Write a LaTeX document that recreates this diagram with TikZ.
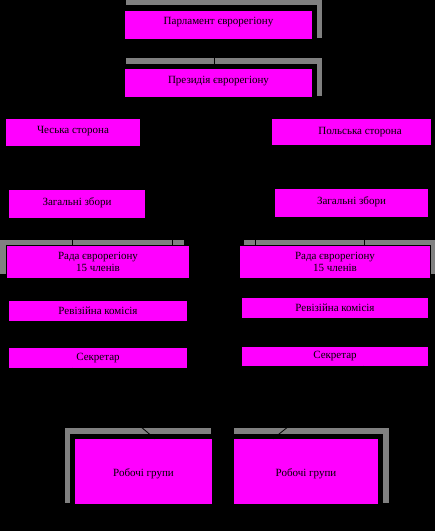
\documentclass[tikz,border=0pt]{standalone}
\usepackage{fontspec}
\setmainfont{Liberation Serif}
\definecolor{mag}{HTML}{FF00FF}
\definecolor{frame}{HTML}{808080}
\begin{document}
\begin{tikzpicture}[x=1pt,y=-1pt,
  box/.style={fill=mag,draw=none,inner sep=0pt,font=\fontsize{11}{12}\selectfont,text=black,align=center},
  shade/.style={fill=frame,draw=none},
  conn/.style={draw=black,line width=0.8pt}]
\fill[black] (0,0) rectangle (435,531);
\useasboundingbox (0,0) rectangle (435,531);
% grey frames
\fill[shade] (126,0) rectangle (322,5);
\fill[shade] (317,0) rectangle (322,38);
\fill[shade] (126,58) rectangle (322,64);
\fill[shade] (317,58) rectangle (322,96);
\fill[shade] (0,240) rectangle (184,245);
\fill[shade] (0,240) rectangle (6,274);
\fill[shade] (244,240) rectangle (435,245);
\fill[shade] (431,240) rectangle (435,274);
\fill[shade] (65,428) rectangle (211,434);
\fill[shade] (65,428) rectangle (70,503);
\fill[shade] (234,428) rectangle (389,434);
\fill[shade] (383,428) rectangle (389,503);
% boxes
\node[box,minimum width=187pt,minimum height=28pt] (parl) at (218.5,25) {\raisebox{7.5pt}{Парламент єврорегіону}};
\node[box,minimum width=187pt,minimum height=28pt] (pres) at (218.5,83) {\raisebox{6.5pt}{Президія єврорегіону}};
\node[box,minimum width=134pt,minimum height=27pt] (cz) at (73,132.5) {\raisebox{4.5pt}{Чеська сторона}};
\node[box,minimum width=159pt,minimum height=26pt] (pl) at (351.5,132) {\raisebox{3pt}{\hspace*{17pt}Польська сторона}};
\node[box,minimum width=136pt,minimum height=28pt] (zzL) at (77,204) {\raisebox{5pt}{Загальні збори}};
\node[box,minimum width=153pt,minimum height=28pt] (zzR) at (351.5,203) {\raisebox{4pt}{Загальні збори}};
\node[box,minimum width=182pt,minimum height=32pt] (radaL) at (98,262) {Рада єврорегіону\\15 членів};
\node[box,minimum width=190pt,minimum height=32pt] (radaR) at (335,262) {Рада єврорегіону\\15 членів};
\node[box,minimum width=178pt,minimum height=20pt] (revL) at (98,311) {Ревізійна комісія};
\node[box,minimum width=186pt,minimum height=20pt] (revR) at (335,308) {Ревізійна комісія};
\node[box,minimum width=178pt,minimum height=20pt] (secL) at (98,358) {\raisebox{1pt}{Секретар}};
\node[box,minimum width=186pt,minimum height=19pt] (secR) at (335,356.5) {\raisebox{1pt}{Секретар}};
\node[box,minimum width=137pt,minimum height=65pt] (robL) at (143.5,471.5) {\raisebox{-5pt}[0pt][0pt]{Робочі групи}};
\node[box,minimum width=144pt,minimum height=65pt] (robR) at (306,471.5) {\raisebox{-5pt}[0pt][0pt]{Робочі групи}};
% spines
\coordinate (spL) at (72,0);
\coordinate (spR) at (364,0);
\coordinate (spP) at (214,0);
\coordinate (pL) at (172,0);
\coordinate (pR) at (255,0);
% connectors
\draw[conn] (spP |- parl.south) -- (spP |- pres.north);
\draw[conn] (pL |- pres.south) -- (pL |- radaL.north);
\draw[conn] (pR |- pres.south) -- (pR |- radaR.north);
\draw[conn] ([yshift=-6pt]spL |- cz.south) -- (spL |- zzL.north);
\draw[conn] (spL |- zzL.south) -- (spL |- radaL.north);
\draw[conn] (spL |- radaL.south) -- (spL |- revL.north);
\draw[conn] (spL |- revL.south) -- (spL |- secL.north);
\draw[conn] (spL |- secL.south) -- ([xshift=11.5pt]robL.north);
\draw[conn] ([yshift=-5pt]spR |- pl.south) -- (spR |- zzR.north);
\draw[conn] (spR |- zzR.south) -- (spR |- radaR.north);
\draw[conn] (spR |- radaR.south) -- (spR |- revR.north);
\draw[conn] (spR |- revR.south) -- (spR |- secR.north);
\draw[conn] (spR |- secR.south) -- ([xshift=-33pt]robR.north);
\end{tikzpicture}
\end{document}
